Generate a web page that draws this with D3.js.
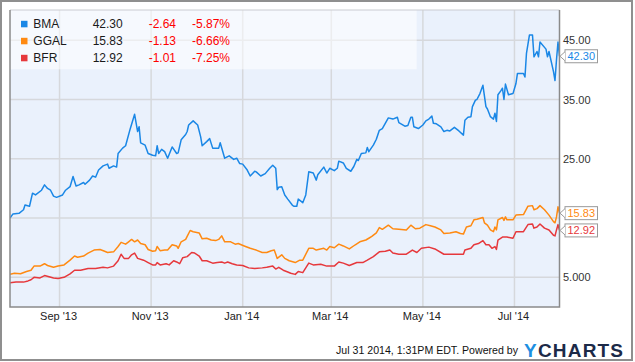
<!DOCTYPE html>
<html><head><meta charset="utf-8">
<script src="https://cdn.jsdelivr.net/npm/d3@7"></script>
<style>
body{margin:0;background:#fff}
svg{display:block;font-family:"Liberation Sans",Arial,Helvetica,sans-serif}
</style>
</head><body>
<svg id="chart" width="635" height="362"></svg>
<script>
// ---------- DATA ----------
const seriesNames = ["BMA", "GGAL", "BFR"];
const lastValues = ["42.30", "15.83", "12.92"];
const changeValues = ["-2.64", "-1.13", "-1.01"];
const changePercents = ["-5.87%", "-6.66%", "-7.25%"];

const yGridValues = [5, 15, 25, 35, 45];
const yLabelValues = [5, 25, 35, 45];
const yLabelTexts = ["5.000", "25.00", "35.00", "45.00"];

const xTickDates = ["2013-09-01", "2013-11-01", "2014-01-01", "2014-03-01", "2014-05-01", "2014-07-01"];
const xTickLabels = ["Sep '13", "Nov '13", "Jan '14", "Mar '14", "May '14", "Jul '14"];

const bmaPrices = [
["2013-07-30",15.0],["2013-08-01",15.7],["2013-08-05",15.8],["2013-08-08",16.4],["2013-08-09",17.2],
["2013-08-12",17.0],["2013-08-14",19.2],["2013-08-16",18.9],["2013-08-20",19.7],["2013-08-22",20.6],
["2013-08-24",20.0],["2013-08-26",19.7],["2013-08-28",18.7],["2013-08-30",18.5],["2013-09-03",18.9],
["2013-09-05",19.7],["2013-09-08",20.3],["2013-09-10",22.0],["2013-09-12",20.4],["2013-09-14",20.6],
["2013-09-17",21.0],["2013-09-18",20.7],["2013-09-21",21.4],["2013-09-23",22.1],["2013-09-25",21.9],
["2013-09-27",23.1],["2013-09-30",23.8],["2013-10-03",24.1],["2013-10-04",23.4],["2013-10-07",23.8],
["2013-10-09",23.6],["2013-10-10",25.9],["2013-10-13",26.8],["2013-10-15",27.2],["2013-10-18",30.0],
["2013-10-21",32.5],["2013-10-23",29.6],["2013-10-24",30.4],["2013-10-25",27.7],["2013-10-28",27.3],
["2013-10-30",25.9],["2013-11-02",25.6],["2013-11-04",25.5],["2013-11-05",27.2],["2013-11-06",25.9],
["2013-11-08",26.6],["2013-11-10",26.2],["2013-11-12",25.1],["2013-11-15",27.0],["2013-11-18",25.9],
["2013-11-19",26.0],["2013-11-21",28.2],["2013-11-24",29.1],["2013-11-25",29.6],["2013-11-26",30.7],
["2013-11-29",31.4],["2013-12-02",30.7],["2013-12-04",28.7],["2013-12-05",27.2],["2013-12-08",27.9],
["2013-12-10",28.4],["2013-12-12",26.8],["2013-12-16",26.8],["2013-12-17",27.7],["2013-12-20",25.1],
["2013-12-23",25.5],["2013-12-26",24.9],["2013-12-28",25.1],["2013-12-30",24.2],["2014-01-01",24.1],
["2014-01-04",23.1],["2014-01-06",22.1],["2014-01-09",22.9],["2014-01-10",22.8],["2014-01-13",22.1],
["2014-01-16",22.5],["2014-01-19",23.4],["2014-01-21",23.9],["2014-01-23",23.4],["2014-01-24",19.8],
["2014-01-25",20.2],["2014-01-27",20.3],["2014-01-29",18.9],["2014-01-31",18.2],["2014-02-03",17.2],
["2014-02-04",17.0],["2014-02-06",17.0],["2014-02-07",18.2],["2014-02-10",17.6],["2014-02-12",18.9],
["2014-02-14",22.8],["2014-02-17",22.6],["2014-02-19",21.4],["2014-02-20",22.3],["2014-02-24",23.6],
["2014-02-26",22.6],["2014-02-28",23.4],["2014-03-03",23.0],["2014-03-05",23.4],["2014-03-06",24.6],
["2014-03-09",24.3],["2014-03-11",23.4],["2014-03-14",22.9],["2014-03-16",23.7],["2014-03-18",24.9],
["2014-03-19",24.7],["2014-03-21",25.9],["2014-03-24",26.0],["2014-03-25",26.9],["2014-03-26",26.2],
["2014-03-29",27.3],["2014-03-31",28.3],["2014-04-02",29.8],["2014-04-04",30.1],["2014-04-08",31.9],
["2014-04-11",31.7],["2014-04-14",32.0],["2014-04-15",31.1],["2014-04-19",30.5],["2014-04-21",30.6],
["2014-04-23",32.0],["2014-04-24",32.0],["2014-04-25",30.4],["2014-04-28",30.1],["2014-05-01",30.7],
["2014-05-03",31.4],["2014-05-05",31.7],["2014-05-07",32.2],["2014-05-08",31.0],["2014-05-10",30.9],
["2014-05-13",30.4],["2014-05-15",29.6],["2014-05-17",29.8],["2014-05-19",29.7],["2014-05-22",30.3],
["2014-05-25",29.7],["2014-05-28",29.0],["2014-05-29",31.5],["2014-05-31",32.0],["2014-06-02",32.1],
["2014-06-03",33.8],["2014-06-05",34.9],["2014-06-06",35.0],["2014-06-08",36.0],["2014-06-10",37.4],
["2014-06-12",33.8],["2014-06-13",33.4],["2014-06-15",32.1],["2014-06-17",31.7],["2014-06-18",32.7],
["2014-06-19",31.3],["2014-06-20",35.8],["2014-06-22",36.5],["2014-06-23",36.9],["2014-06-24",35.0],
["2014-06-25",37.6],["2014-06-27",35.8],["2014-06-30",36.0],["2014-07-02",37.7],["2014-07-03",39.4],
["2014-07-07",39.4],["2014-07-08",38.8],["2014-07-09",42.8],["2014-07-11",45.9],["2014-07-13",45.9],
["2014-07-14",42.2],["2014-07-16",43.1],["2014-07-17",42.2],["2014-07-18",44.7],["2014-07-22",43.5],
["2014-07-23",42.2],["2014-07-24",43.1],["2014-07-27",39.7],["2014-07-28",38.2],["2014-07-29",41.7],
["2014-07-30",44.7],["2014-07-31",42.30]
];

const ggalPrices = [
["2013-07-30",5.5],["2013-08-02",5.7],["2013-08-06",5.6],["2013-08-10",6.0],["2013-08-13",6.2],
["2013-08-15",6.9],["2013-08-19",6.9],["2013-08-22",7.3],["2013-08-24",7.0],["2013-08-28",6.7],
["2013-08-31",6.9],["2013-09-04",7.1],["2013-09-08",7.9],["2013-09-11",8.6],["2013-09-13",8.4],
["2013-09-17",8.6],["2013-09-20",9.1],["2013-09-24",9.6],["2013-09-28",9.7],["2013-10-01",9.4],
["2013-10-03",9.2],["2013-10-07",9.3],["2013-10-10",10.2],["2013-10-12",10.9],["2013-10-15",10.6],
["2013-10-17",11.0],["2013-10-19",11.4],["2013-10-21",11.0],["2013-10-23",11.3],["2013-10-25",10.7],
["2013-10-28",10.5],["2013-10-30",9.7],["2013-11-02",9.4],["2013-11-04",9.5],["2013-11-05",10.2],
["2013-11-07",9.5],["2013-11-10",9.6],["2013-11-12",9.6],["2013-11-15",10.5],["2013-11-18",10.3],
["2013-11-19",9.9],["2013-11-21",11.0],["2013-11-24",11.4],["2013-11-25",11.9],["2013-11-27",12.9],
["2013-11-29",12.7],["2013-12-03",12.5],["2013-12-05",11.5],["2013-12-08",11.6],["2013-12-11",11.3],
["2013-12-14",11.2],["2013-12-16",11.4],["2013-12-18",12.0],["2013-12-20",11.0],["2013-12-24",11.0],
["2013-12-27",10.6],["2013-12-29",10.7],["2014-01-02",10.3],["2014-01-06",9.9],["2014-01-10",9.6],
["2014-01-14",9.2],["2014-01-17",9.2],["2014-01-20",9.5],["2014-01-22",9.6],["2014-01-24",8.2],
["2014-01-27",8.8],["2014-01-29",8.2],["2014-02-01",7.8],["2014-02-05",7.5],["2014-02-08",7.9],
["2014-02-10",7.9],["2014-02-14",9.9],["2014-02-17",9.9],["2014-02-19",9.6],["2014-02-24",9.9],
["2014-02-26",9.6],["2014-02-28",10.2],["2014-03-03",10.0],["2014-03-06",10.6],["2014-03-09",10.3],
["2014-03-13",9.8],["2014-03-17",10.5],["2014-03-20",11.0],["2014-03-24",11.3],["2014-03-26",11.6],
["2014-03-28",11.9],["2014-03-31",12.5],["2014-04-02",13.4],["2014-04-04",13.1],["2014-04-08",13.8],
["2014-04-11",13.2],["2014-04-15",13.1],["2014-04-20",13.0],["2014-04-23",13.8],["2014-04-26",13.2],
["2014-04-29",13.3],["2014-05-03",13.9],["2014-05-06",13.7],["2014-05-09",13.5],["2014-05-13",13.0],
["2014-05-15",12.4],["2014-05-19",12.5],["2014-05-23",12.7],["2014-05-26",12.4],["2014-05-28",12.3],
["2014-05-30",13.5],["2014-06-02",13.7],["2014-06-04",14.7],["2014-06-06",14.8],["2014-06-10",15.1],
["2014-06-11",14.2],["2014-06-13",13.8],["2014-06-15",13.0],["2014-06-17",12.7],["2014-06-18",13.5],
["2014-06-19",13.0],["2014-06-20",14.7],["2014-06-23",15.1],["2014-06-24",14.6],["2014-06-25",15.2],
["2014-06-26",14.7],["2014-06-30",14.7],["2014-07-02",15.5],["2014-07-07",15.6],["2014-07-10",17.0],
["2014-07-13",17.1],["2014-07-14",16.4],["2014-07-16",16.6],["2014-07-18",17.1],["2014-07-21",16.4],
["2014-07-24",15.5],["2014-07-27",14.4],["2014-07-28",14.2],["2014-07-29",15.2],["2014-07-30",16.9],
["2014-07-31",15.83]
];

const bfrPrices = [
["2013-07-30",4.1],["2013-08-03",4.2],["2013-08-08",4.2],["2013-08-11",4.4],["2013-08-13",4.6],
["2013-08-15",5.0],["2013-08-19",4.9],["2013-08-22",5.3],["2013-08-25",5.1],["2013-08-28",4.9],
["2013-08-31",4.8],["2013-09-04",5.0],["2013-09-08",5.6],["2013-09-11",6.2],["2013-09-15",6.2],
["2013-09-20",6.5],["2013-09-25",6.5],["2013-09-30",6.7],["2013-10-03",6.6],["2013-10-07",6.9],
["2013-10-10",7.8],["2013-10-12",8.9],["2013-10-14",8.2],["2013-10-17",8.2],["2013-10-19",8.8],
["2013-10-21",9.1],["2013-10-23",8.2],["2013-10-27",7.9],["2013-10-30",7.5],["2013-11-02",7.1],
["2013-11-04",7.1],["2013-11-05",7.5],["2013-11-07",7.1],["2013-11-11",7.3],["2013-11-13",7.1],
["2013-11-16",7.8],["2013-11-18",7.6],["2013-11-20",7.3],["2013-11-22",8.3],["2013-11-25",8.5],
["2013-11-28",9.2],["2013-11-30",9.1],["2013-12-03",8.6],["2013-12-05",7.8],["2013-12-08",7.8],
["2013-12-12",7.4],["2013-12-15",7.5],["2013-12-18",7.6],["2013-12-20",7.4],["2013-12-22",7.6],
["2013-12-25",7.3],["2013-12-28",7.1],["2014-01-01",7.0],["2014-01-05",6.6],["2014-01-09",6.5],
["2014-01-14",6.6],["2014-01-17",6.7],["2014-01-21",6.9],["2014-01-23",6.4],["2014-01-25",6.7],
["2014-01-28",6.2],["2014-01-31",5.9],["2014-02-02",5.7],["2014-02-05",5.5],["2014-02-07",6.0],
["2014-02-10",5.8],["2014-02-14",7.4],["2014-02-17",7.1],["2014-02-22",7.2],["2014-02-26",6.9],
["2014-03-03",6.9],["2014-03-06",7.6],["2014-03-09",7.4],["2014-03-13",7.0],["2014-03-18",7.5],
["2014-03-22",7.5],["2014-03-25",7.9],["2014-03-29",8.5],["2014-04-02",9.3],["2014-04-06",9.4],
["2014-04-09",9.6],["2014-04-11",9.1],["2014-04-15",8.9],["2014-04-20",8.9],["2014-04-24",9.6],
["2014-04-27",9.2],["2014-04-30",9.9],["2014-05-05",10.1],["2014-05-09",9.8],["2014-05-15",8.9],
["2014-05-19",8.9],["2014-05-24",8.9],["2014-05-28",8.9],["2014-05-29",9.6],["2014-06-02",9.9],
["2014-06-04",10.5],["2014-06-07",10.7],["2014-06-10",11.2],["2014-06-12",10.5],["2014-06-14",10.5],
["2014-06-16",9.9],["2014-06-18",10.2],["2014-06-19",9.7],["2014-06-20",11.3],["2014-06-23",11.8],
["2014-06-26",11.8],["2014-06-30",11.6],["2014-07-02",12.7],["2014-07-07",12.7],["2014-07-10",13.9],
["2014-07-13",14.0],["2014-07-14",13.3],["2014-07-16",13.5],["2014-07-18",14.0],["2014-07-21",13.3],
["2014-07-24",13.0],["2014-07-27",12.1],["2014-07-28",12.0],["2014-07-29",13.0],["2014-07-30",13.9],
["2014-07-31",12.92]
];

// ---------- CHART ----------
const seriesData = [bmaPrices, ggalPrices, bfrPrices];
const seriesColors = ["#1a87e6", "#ff8a12", "#e6383c"];
const parse = d3.timeParse("%Y-%m-%d");

const plot = {left: 10, right: 559.5, top: 10, bottom: 307};
const svg = d3.select("#chart");

const x = d3.scaleTime()
  .domain([parse("2013-07-30"), parse("2014-07-31")])
  .range([plot.left, plot.right]);
const y = d3.scaleLinear().domain([0, 50]).range([plot.bottom, 10.6]);

// outer frame
svg.append("rect").attr("x", 1).attr("y", 1).attr("width", 631).attr("height", 359)
  .attr("fill", "#fff").attr("stroke", "#8f8f8f").attr("stroke-width", 2);

// plot background
svg.append("rect").attr("x", plot.left).attr("y", plot.top)
  .attr("width", plot.right - plot.left).attr("height", plot.bottom - plot.top)
  .attr("fill", "#eaf1fc");

// grid
const grid = svg.append("g").attr("stroke", "#d6d8dc").attr("stroke-width", 1.5);
grid.selectAll("line.h").data(yGridValues).join("line").attr("class", "h")
  .attr("x1", plot.left).attr("x2", plot.right)
  .attr("y1", d => y(d)).attr("y2", d => y(d));
grid.selectAll("line.v").data(xTickDates).join("line").attr("class", "v")
  .attr("x1", d => x(parse(d))).attr("x2", d => x(parse(d)))
  .attr("y1", plot.top).attr("y2", plot.bottom);

// legend panel (semi-transparent)
svg.append("rect").attr("x", plot.left).attr("y", plot.top)
  .attr("width", 406.7).attr("height", 59.3)
  .attr("fill", "#ffffff").attr("opacity", 0.55);

// clip
svg.append("clipPath").attr("id", "clip").append("rect")
  .attr("x", plot.left).attr("y", plot.top)
  .attr("width", plot.right - plot.left).attr("height", plot.bottom - plot.top);

const line = d3.line().x(d => x(parse(d[0]))).y(d => y(+d[1]));
svg.append("g").attr("clip-path", "url(#clip)")
  .selectAll("path").data(seriesData).join("path")
  .attr("d", line).attr("fill", "none")
  .attr("stroke", (d, i) => seriesColors[i]).attr("stroke-width", 1.5)
  .attr("stroke-linejoin", "round");

// plot border
svg.append("line").attr("x1", plot.left).attr("x2", plot.right).attr("y1", plot.top).attr("y2", plot.top)
  .attr("stroke", "#c9ccd1").attr("stroke-width", 1);
svg.append("path")
  .attr("d", `M${plot.left},${plot.top}V${plot.bottom}H${plot.right}V${plot.top}`)
  .attr("fill", "none").attr("stroke", "#8a8a8a").attr("stroke-width", 1.5);

// right axis labels
svg.append("g").selectAll("text").data(yLabelValues).join("text")
  .attr("x", 563).attr("y", d => y(d) + 4)
  .attr("font-size", 11).attr("fill", "#333")
  .text((d, i) => yLabelTexts[i]);

// x axis labels
svg.append("g").selectAll("text").data(xTickDates).join("text")
  .attr("x", d => x(parse(d)) - 1).attr("y", 320)
  .attr("text-anchor", "middle").attr("font-size", 11).attr("fill", "#222")
  .text((d, i) => xTickLabels[i]);

// legend
const lg = svg.append("g").attr("font-size", 12);
seriesNames.forEach((n, i) => {
  const by = 28.3 + i * 17;
  lg.append("rect").attr("x", 21).attr("y", by - 7.5).attr("width", 6.5).attr("height", 6.5)
    .attr("fill", seriesColors[i]);
  lg.append("text").attr("x", 33.3).attr("y", by).attr("fill", "#1a1a1a").text(n);
  lg.append("text").attr("x", 122.7).attr("y", by).attr("text-anchor", "end").attr("fill", "#1a1a1a").text(lastValues[i]);
  lg.append("text").attr("x", 176).attr("y", by).attr("text-anchor", "end").attr("fill", "#f00").text(changeValues[i]);
  lg.append("text").attr("x", 230).attr("y", by).attr("text-anchor", "end").attr("fill", "#f00").text(changePercents[i]);
});

// value flags on right
seriesNames.forEach((n, i) => {
  const cy = y(+lastValues[i]);
  const g = svg.append("g");
  g.append("rect").attr("x", 565).attr("y", cy - 6.5).attr("width", 32.5).attr("height", 13)
    .attr("fill", "#fff").attr("stroke", "#9a9a9a").attr("stroke-width", 1);
  g.append("path").attr("d", `M565,${cy - 4.5}L560,${cy}L565,${cy + 4.5}`)
    .attr("fill", "#fff").attr("stroke", "#9a9a9a").attr("stroke-width", 1);
  g.append("text").attr("x", 567.5).attr("y", cy + 4).attr("font-size", 11)
    .attr("fill", seriesColors[i]).text(lastValues[i]);
});

// footer
svg.append("text").attr("x", 518).attr("y", 354).attr("text-anchor", "end")
  .attr("font-size", 10.6).attr("fill", "#111").text("Jul 31 2014, 1:31PM EDT. Powered by");
const logo = svg.append("text").attr("x", 524).attr("y", 356.5)
  .attr("font-size", 19).attr("font-weight", "bold").attr("letter-spacing", 1.2);
logo.append("tspan").attr("fill", "#1e8fe1").text("Y");
logo.append("tspan").attr("fill", "#1c2a48").text("CHARTS");
</script>
</body></html>
